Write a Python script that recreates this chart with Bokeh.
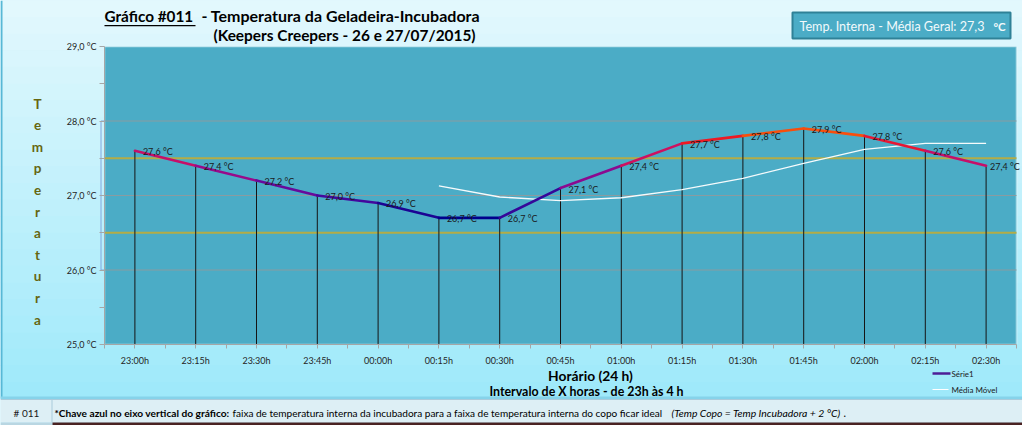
from bokeh.plotting import figure
from bokeh.models import Range1d, FixedTicker, BoxAnnotation
from bokeh.core.properties import value
from bokeh.embed import file_html
from bokeh.resources import INLINE

# ---------------- data ----------------
horarios = ["23:00h", "23:15h", "23:30h", "23:45h", "00:00h", "00:15h", "00:30h",
            "00:45h", "01:00h", "01:15h", "01:30h", "01:45h", "02:00h", "02:15h", "02:30h"]
temperaturas = [27.6, 27.4, 27.2, 27.0, 26.9, 26.7, 26.7, 27.1, 27.4, 27.7, 27.8, 27.9, 27.8, 27.6, 27.4]
nan = float("nan")
media_movel = [nan, nan, nan, nan, nan, 27.13, 26.98, 26.93, 26.97, 27.08, 27.23, 27.43, 27.62, 27.70, 27.70]
y_ticks = [25, 26, 27, 28, 29]
y_minor = [25.5, 26.5, 27.5, 28.5]
y_tick_labels = ["25,0 °C", "26,0 °C", "27,0 °C", "28,0 °C", "29,0 °C"]
faixa_linhas = [26.5, 27.5]
chave = [26.0, 28.0]
media_geral = "27,3"

FONT = "Lato"
W, H = 1022, 425
FL, FR, FT, FB = 104, 1016, 46, 344
n = len(horarios)
xs = list(range(n))


def mix(c1, c2, t):
    return tuple(int(round(a + (b - a) * t)) for a, b in zip(c1, c2))


def hexc(c):
    return "#%02x%02x%02x" % c


stops = [(26.7, (0, 0, 140)), (27.0, (80, 10, 160)), (27.2, (125, 10, 150)), (27.4, (180, 10, 125)),
         (27.6, (215, 20, 85)), (27.75, (238, 25, 35)), (27.9, (255, 105, 0))]


def temp_color(v):
    if v <= stops[0][0]:
        return hexc(stops[0][1])
    for (a, ca), (b, cb) in zip(stops[:-1], stops[1:]):
        if v <= b:
            return hexc(mix(ca, cb, (v - a) / (b - a)))
    return hexc(stops[-1][1])


# ================= background / decoration figure (canvas pixel space) =================
bg = figure(width=W, height=H, x_range=Range1d(0, W), y_range=Range1d(H, 0),
            x_axis_type=None, y_axis_type=None, output_backend="svg", toolbar_location=None,
            min_border=0)
bg.xgrid.visible = False
bg.ygrid.visible = False
bg.outline_line_color = None
bg.background_fill_color = "#C2EFFA"
bg.border_fill_color = "#C2EFFA"


def rect(x0, y0, x1, y1, color, line_color=None, line_width=1):
    bg.quad(left=[x0], right=[x1], top=[y0], bottom=[y1], fill_color=color,
            fill_alpha=1 if color else 0, line_color=line_color, line_width=line_width,
            line_alpha=1 if line_color else 0)


def txt(text, x, y, size, color="#000000", bold=False, italic=False, align="left", baseline="middle"):
    style = "bold italic" if (bold and italic) else "bold" if bold else "italic" if italic else "normal"
    bg.text(x=[x], y=[y], text=[text], text_font=value(FONT), text_font_size=f"{size}px",
            text_color=color, text_font_style=style, text_align=align, text_baseline=baseline)


N = 24
top_c, bot_c = (227, 248, 253), (158, 233, 250)
for i in range(N):
    y0 = i * 398 / N
    y1 = (i + 1) * 398 / N
    rect(0, y0, W, y1 + 0.6, hexc(mix(top_c, bot_c, (i + 0.5) / N)))

rect(0, 0, 2, 398, "#58B8D6")
rect(0, 396, W, 398.5, "#86D3EA")
rect(0, 398.5, W, 422, "#DDEFF5")
rect(0, 398.5, W, 399.5, "#A9CCDC")
rect(51, 399.5, 52, 422, "#A9CCDC")
rect(0, 422, 52, 425, "#B9D6E2")
rect(52, 422, W, 425, "#4A2222")

# top-right box
rect(792, 12, 1010, 38, "#4BACC6", line_color="#2F8197", line_width=2)
txt(f"Temp. Interna - Média Geral: {media_geral}", 799, 25.5, 12.6, color="#F2FAFC")
txt("ºC", 993, 25.5, 11.5, color="#F2FAFC", bold=True)

# title
txt("Gráfico #011", 104, 15, 15.3, bold=True)
rect(104, 24.5, 195, 25.8, "#000000")
txt("- Temperatura da Geladeira-Incubadora", 201, 15, 16, bold=True)
txt("(Keepers Creepers - 26 e 27/07/2015)", 344, 34, 15.4, bold=True, align="center")

# y title stacked letters
for i, ch in enumerate("Temperatura"):
    txt(ch, 37, 103 + i * 21.6, 13.5, color="#66660F", bold=True, align="center")

# x titles
txt("Horário (24 h)", 590, 375, 13.8, bold=True, align="center")
txt("Intervalo de X horas - de 23h às 4 h", 586, 391, 12.4, bold=True, align="center")

# footer text
txt("# 011", 26, 412, 10, color="#1A1A1A", align="center")
txt("*Chave azul no eixo vertical do gráfico:", 54, 412, 10.2, bold=True)
txt("faixa de temperatura interna da incubadora para a faixa de temperatura interna do copo ficar ideal",
    232, 412, 10.05)
txt("(Temp Copo = Temp Incubadora + 2 °C)", 671, 412, 10.4, italic=True)
txt(".", 843, 412, 10.5)

# legend (drawn by hand in the free area below the plot)
bg.segment(x0=[932], y0=[373], x1=[950], y1=[373], line_color="#4E1E96", line_width=2.5)
bg.segment(x0=[932], y0=[389], x1=[948], y1=[389], line_color="white", line_width=1)
txt("Série1", 951, 373, 8, color="#1A1A1A")
txt("Média Móvel", 951, 389, 8, color="#1A1A1A")


# blue bracket ("chave") next to the y axis, mapped from the y values
def ycanvas(v):
    return FB - (v - y_ticks[0]) * (FB - FT) / (y_ticks[-1] - y_ticks[0])


bx = 100.5
bg.segment(x0=[bx, bx, bx], y0=[ycanvas(chave[0]), ycanvas(chave[0]), ycanvas(chave[1])],
           x1=[bx, FL, FL], y1=[ycanvas(chave[1]), ycanvas(chave[0]), ycanvas(chave[1])],
           line_color="#7EA6DE", line_width=1)

# ================= main chart figure (overlaid) =================
x_end = -0.5 + n * (W - FL) / (FR - FL)
p = figure(width=W, height=H, x_range=Range1d(-0.5, x_end), y_range=Range1d(y_ticks[0], y_ticks[-1]),
           output_backend="svg", toolbar_location=None,
           min_border_left=FL, min_border_right=0, min_border_top=FT, min_border_bottom=H - FB)
p.background_fill_alpha = 0
p.border_fill_alpha = 0
p.outline_line_alpha = 0
p.xgrid.visible = False
p.ygrid.visible = False
p.stylesheets = [":host { position: absolute !important; top: 0px !important; left: 0px !important; }"]

# plot area
p.add_layout(BoxAnnotation(left=-0.5, right=n - 0.5, bottom=y_ticks[0], top=y_ticks[-1],
                           fill_color="#4BACC6", fill_alpha=1, line_color="white", line_width=2,
                           level="underlay"))

# grid lines and ideal band lines
gl = y_ticks[1:-1]
p.segment(x0=[-0.5] * len(gl), y0=gl, x1=[n - 0.5] * len(gl), y1=gl, line_color="#8A9BA0", line_width=1)
p.segment(x0=[-0.5] * 2, y0=faixa_linhas, x1=[n - 0.5] * 2, y1=faixa_linhas,
          line_color="#B3AC46", line_width=2.2)

# drop lines
p.segment(x0=xs, y0=[y_ticks[0]] * n, x1=xs, y1=temperaturas, line_color="#151515", line_width=1)

# moving average
p.line(xs, media_movel, line_color="white", line_width=1.3, line_alpha=0.95)

# main series as coloured segments
seg_colors = [temp_color((a + b) / 2) for a, b in zip(temperaturas[:-1], temperaturas[1:])]
p.segment(x0=xs[:-1], y0=temperaturas[:-1], x1=xs[1:], y1=temperaturas[1:],
          line_color=seg_colors, line_width=2.6, line_cap="round")

# data labels
labels_txt = [f"{v:.1f}".replace(".", ",") + " °C" for v in temperaturas]
label_dx = [8] * (n - 1) + [4]
p.text(x=xs, y=temperaturas, text=labels_txt, x_offset=label_dx, y_offset=1,
       text_font=value(FONT), text_font_size="9px", text_color="#1A1A1A",
       text_baseline="middle", text_align="left")

# axes
ya = p.yaxis[0]
ya.ticker = FixedTicker(ticks=y_ticks, minor_ticks=y_minor)
ya.major_label_overrides = {t: l for t, l in zip(y_ticks, y_tick_labels)}
ya.major_label_text_font = FONT
ya.major_label_text_font_size = "9px"
ya.major_label_text_color = "#262626"
ya.axis_line_color = "#A6A6A6"
ya.major_tick_line_color = "#A6A6A6"
ya.minor_tick_line_color = "#A6A6A6"
ya.major_tick_out = 5
ya.major_tick_in = 0
ya.minor_tick_out = 5
ya.minor_tick_in = 0
ya.major_label_standoff = 3

xa = p.xaxis[0]
xa.ticker = FixedTicker(ticks=xs, minor_ticks=[i - 0.5 for i in range(n + 1)])
xa.major_label_overrides = {i: h for i, h in zip(xs, horarios)}
xa.bounds = (-0.5, n - 0.5)
xa.major_label_text_font = FONT
xa.major_label_text_font_size = "9px"
xa.major_label_text_color = "#262626"
xa.axis_line_color = "#A6A6A6"
xa.major_tick_line_color = "#A6A6A6"
xa.minor_tick_line_color = "#A6A6A6"
xa.major_tick_out = 4
xa.major_tick_in = 0
xa.minor_tick_out = 4
xa.minor_tick_in = 0
xa.major_label_standoff = 6

open("out.html", "w").write(file_html([bg, p], INLINE))
